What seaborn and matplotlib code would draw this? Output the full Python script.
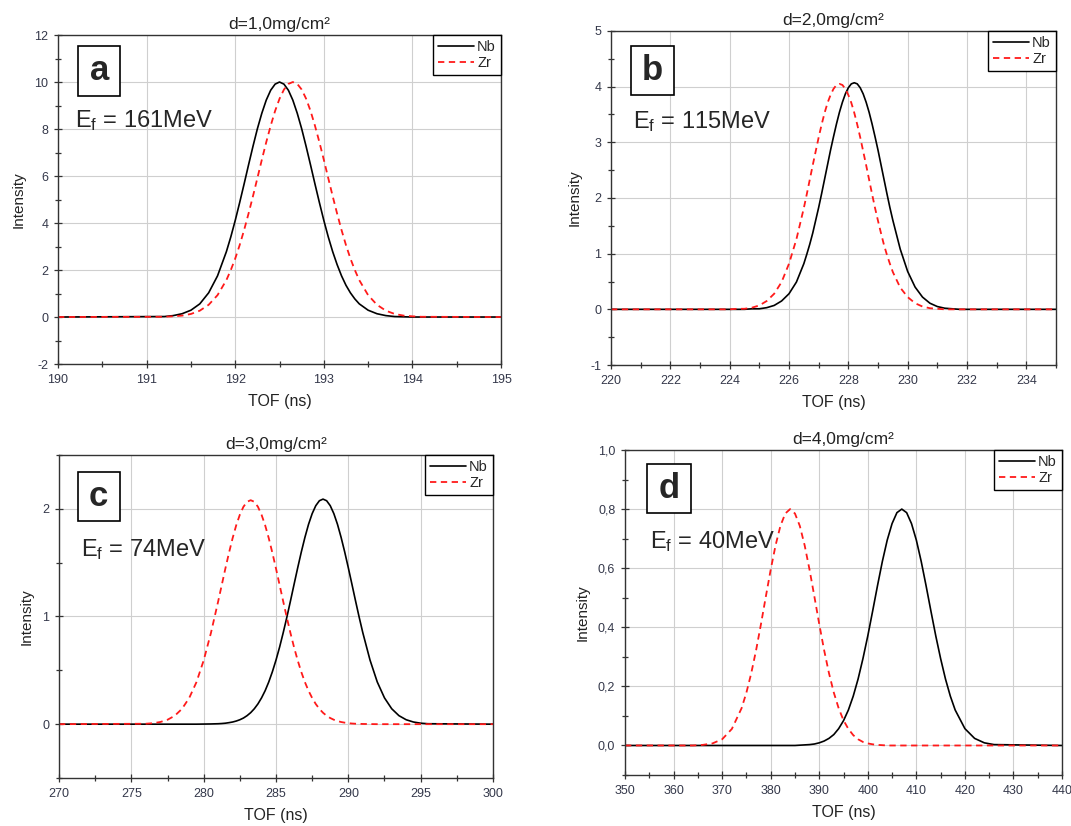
import numpy as np
import matplotlib
matplotlib.use("Agg")
import matplotlib.pyplot as plt
from matplotlib.patches import Rectangle
from matplotlib.ticker import MultipleLocator, FuncFormatter
import seaborn as sns

# ---------------- data ----------------
# panel a : d = 1,0 mg/cm2
a_tof = [190.0, 191.2, 191.3, 191.4, 191.5, 191.6, 191.7, 191.8,
         191.9, 191.95, 192.0, 192.05, 192.1, 192.15, 192.2, 192.25, 192.3,
         192.35, 192.4, 192.45, 192.5, 192.55, 192.6, 192.65, 192.7, 192.75,
         192.8, 192.85, 192.9, 192.95, 193.0, 193.05, 193.1, 193.15, 193.2,
         193.25, 193.3, 193.35, 193.4,
         193.5, 193.6, 193.7, 193.8, 193.9, 194.0, 194.1, 195.0]
a_nb = [0, 0.02, 0.06, 0.14, 0.29, 0.56, 1.03, 1.75,
        2.78, 3.41, 4.11, 4.87, 5.66, 6.47, 7.26, 8.01, 8.67,
        9.23, 9.65, 9.91, 10.0, 9.91, 9.65, 9.23, 8.67, 8.01,
        7.26, 6.47, 5.66, 4.87, 4.11, 3.41, 2.78, 2.23, 1.75,
        1.35, 1.03, 0.77, 0.56,
        0.29, 0.14, 0.06, 0.02, 0.01, 0, 0, 0]
a_zr = [0, 0.01, 0.03, 0.06, 0.13, 0.27, 0.52, 0.93,
        1.57, 2.00, 2.49, 3.06, 3.70, 4.40, 5.14, 5.91, 6.69,
        7.44, 8.14, 8.77, 9.29, 9.68, 9.92, 10.0, 9.92, 9.68,
        9.29, 8.77, 8.14, 7.44, 6.69, 5.91, 5.14, 4.40, 3.70,
        3.06, 2.49, 2.00, 1.57,
        0.93, 0.52, 0.27, 0.13, 0.06, 0.03, 0.01, 0]

# panel b : d = 2,0 mg/cm2
b_tof = [220.0, 224.0, 224.25, 224.5, 224.75, 225.0, 225.25, 225.5, 225.75,
         226.0, 226.25,
         226.5, 226.6, 226.7, 226.8, 226.9, 227.0, 227.1, 227.2, 227.3, 227.4,
         227.5, 227.6, 227.7, 227.8, 227.9, 228.0, 228.1, 228.2, 228.3, 228.4,
         228.5, 228.6, 228.7, 228.8, 228.9, 229.0, 229.1, 229.2, 229.3, 229.4,
         229.5,
         229.75, 230.0, 230.25, 230.5, 230.75, 231.0, 231.25, 231.5, 231.75,
         232.0, 235.0]
b_nb = [0, 0, 0, 0, 0.01, 0.01, 0.03, 0.07, 0.15,
        0.28, 0.49,
        0.82, 0.99, 1.17, 1.37, 1.60, 1.83, 2.08, 2.34, 2.60, 2.86,
        3.10, 3.33, 3.54, 3.72, 3.87, 3.98, 4.05, 4.07, 4.05, 3.98,
        3.87, 3.72, 3.54, 3.33, 3.10, 2.86, 2.60, 2.34, 2.08, 1.83,
        1.60,
        1.08, 0.68, 0.40, 0.22, 0.11, 0.05, 0.02, 0.01, 0,
        0, 0]
b_zr = [0, 0, 0.01, 0.01, 0.03, 0.07, 0.15, 0.28, 0.49,
        0.82, 1.26,
        1.82, 2.07, 2.33, 2.59, 2.84, 3.09, 3.32, 3.53, 3.71, 3.85,
        3.96, 4.03, 4.05, 4.03, 3.96, 3.85, 3.71, 3.53, 3.32, 3.09,
        2.84, 2.59, 2.33, 2.07, 1.82, 1.59, 1.37, 1.16, 0.98, 0.82,
        0.67,
        0.39, 0.22, 0.11, 0.05, 0.02, 0.01, 0, 0, 0,
        0, 0]

# panel c : d = 3,0 mg/cm2
c_tof = [270.0, 276.0, 276.5, 277.0, 277.5, 278.0, 278.5, 279.0, 279.5, 280.0,
         280.5,
         281.0, 281.25, 281.5, 281.75, 282.0, 282.25, 282.5, 282.75, 283.0,
         283.25, 283.5, 283.75, 284.0, 284.25, 284.5, 284.75, 285.0, 285.25,
         285.5, 285.75, 286.0, 286.25, 286.5, 286.75, 287.0, 287.25, 287.5,
         287.75, 288.0, 288.25, 288.5, 288.75, 289.0, 289.25, 289.5, 289.75,
         290.0, 290.25, 290.5, 290.75, 291.0,
         291.5, 292.0, 292.5, 293.0, 293.5, 294.0, 294.5, 295.0, 295.5, 300.0]
c_nb = [0, 0, 0, 0, 0, 0, 0, 0, 0, 0.001,
        0.002,
        0.004, 0.006, 0.009, 0.014, 0.020, 0.029, 0.041, 0.057, 0.079,
        0.107, 0.143, 0.188, 0.244, 0.311, 0.392, 0.487, 0.595, 0.716,
        0.850, 0.993, 1.144, 1.299, 1.452, 1.599, 1.735, 1.856, 1.955,
        2.029, 2.075, 2.09, 2.075, 2.029, 1.955, 1.856, 1.735, 1.599,
        1.452, 1.299, 1.144, 0.993, 0.850,
        0.595, 0.392, 0.244, 0.143, 0.079, 0.041, 0.020, 0.009, 0.004, 0]
c_zr = [0, 0.004, 0.009, 0.020, 0.041, 0.078, 0.142, 0.243, 0.390, 0.592,
        0.846,
        1.139, 1.292, 1.445, 1.591, 1.727, 1.847, 1.945, 2.019, 2.065,
        2.08, 2.065, 2.019, 1.945, 1.847, 1.727, 1.591, 1.445, 1.292,
        1.139, 0.989, 0.846, 0.713, 0.592, 0.484, 0.390, 0.310, 0.243,
        0.187, 0.142, 0.106, 0.078, 0.057, 0.041, 0.029, 0.020, 0.014,
        0.009, 0.006, 0.004, 0.003, 0.002,
        0.001, 0, 0, 0, 0, 0, 0, 0, 0, 0]

# panel d : d = 4,0 mg/cm2
d_tof = [350, 364, 366, 368, 370, 372,
         374, 375, 376, 377, 378, 379, 380, 381, 382, 383, 384, 385, 386, 387,
         388, 389, 390, 391, 392, 393, 394, 395, 396, 397, 398, 399, 400, 401,
         402, 403, 404, 405, 406, 407, 408, 409, 410, 411, 412, 413, 414, 415,
         416, 417, 418,
         420, 422, 424, 426, 440]
d_nb = [0, 0, 0, 0, 0, 0,
        0, 0, 0, 0, 0, 0, 0, 0, 0, 0, 0, 0, 0.001, 0.002,
        0.003, 0.005, 0.009, 0.015, 0.024, 0.037, 0.057, 0.084, 0.120, 0.167,
        0.225, 0.294, 0.371, 0.455, 0.541, 0.623, 0.695, 0.751, 0.788, 0.80,
        0.788, 0.751, 0.695, 0.623, 0.541, 0.455, 0.371, 0.294, 0.225, 0.167,
        0.120,
        0.057, 0.024, 0.009, 0.003, 0]
d_zr = [0, 0, 0.002, 0.007, 0.021, 0.056,
        0.126, 0.179, 0.245, 0.323, 0.411, 0.504, 0.595, 0.677, 0.743, 0.785,
        0.80, 0.785, 0.743, 0.677, 0.595, 0.504, 0.411, 0.323, 0.245, 0.179,
        0.126, 0.085, 0.056, 0.035, 0.021, 0.012, 0.007, 0.004, 0.002, 0.001,
        0, 0, 0, 0, 0, 0, 0, 0, 0, 0, 0, 0, 0, 0, 0,
        0, 0, 0, 0, 0]

titles = ['d=1,0mg/cm²', 'd=2,0mg/cm²', 'd=3,0mg/cm²', 'd=4,0mg/cm²']
letters = ['a', 'b', 'c', 'd']
energies = ['161MeV', '115MeV', '74MeV', '40MeV']

sns.set_style("ticks")
plt.rcParams['font.family'] = ['Liberation Sans', 'DejaVu Sans']
plt.rcParams['mathtext.fontset'] = 'custom'
plt.rcParams['mathtext.rm'] = 'Liberation Sans'
plt.rcParams['mathtext.it'] = 'Liberation Sans:italic'

TICK_COLOR = '#34384a'


def comma_fmt(decimals):
    def f(v, pos):
        return ('%.*f' % (decimals, v)).replace('.', ',')
    return FuncFormatter(f)


def plot_panel(ax, tof, nb, zr, title, xlim, ylim, xmaj, xmin, ymaj, ymin,
               letter, energy, box, etxt, ydec=0):
    """draw one TOF panel"""
    sns.lineplot(x=tof, y=nb, ax=ax, color='black', lw=1.2, label='Nb')
    sns.lineplot(x=tof, y=zr, ax=ax, color='#ff1a1a', lw=1.3,
                 ls=(0, (3.5, 2.5)), label='Zr')
    ax.set_xlim(*xlim)
    ax.set_ylim(*ylim)
    ax.xaxis.set_major_locator(MultipleLocator(xmaj))
    ax.xaxis.set_minor_locator(MultipleLocator(xmin))
    ax.yaxis.set_major_locator(MultipleLocator(ymaj))
    ax.yaxis.set_minor_locator(MultipleLocator(ymin))
    ax.yaxis.set_major_formatter(comma_fmt(ydec))
    ax.xaxis.set_major_formatter(comma_fmt(0))
    ax.grid(True, which='major', color='#cfcfcf', lw=0.8)
    ax.set_axisbelow(True)
    ax.tick_params(which='major', direction='inout', length=6, width=0.9,
                   colors='#333333', labelcolor=TICK_COLOR, labelsize=9, pad=4)
    ax.tick_params(which='minor', direction='inout', length=4, width=0.9,
                   colors='#333333')
    for sp in ax.spines.values():
        sp.set_color('#333333')
        sp.set_linewidth(1.0)
    ax.set_title(title, fontsize=12.5, color='#222222', pad=4)
    ax.set_xlabel('TOF (ns)', fontsize=11.5, color='#222222', labelpad=6)
    ax.set_ylabel('Intensity', fontsize=11, color='#222222', labelpad=6)

    leg = ax.legend(loc='upper right', borderaxespad=0, fancybox=False,
                    framealpha=1, edgecolor='black', fontsize=10.5,
                    handlelength=2.5, handletextpad=0.2, borderpad=0.35,
                    labelspacing=0.15)
    leg.get_frame().set_linewidth(1.0)

    # letter box
    x0, y0, x1, y1 = box
    ax.add_patch(Rectangle((x0, y0), x1 - x0, y1 - y0, transform=ax.transAxes,
                           facecolor='white', edgecolor='black', lw=1.2,
                           zorder=5))
    ax.text((x0 + x1) / 2, (y0 + y1) / 2, letter, transform=ax.transAxes,
            ha='center', va='center', fontsize=25, fontweight='bold',
            zorder=6)
    ax.text(etxt[0], etxt[1], 'E$_\\mathrm{f}$ = ' + energy,
            transform=ax.transAxes, ha='left', va='baseline', fontsize=17,
            zorder=6)


fig = plt.figure(figsize=(10.71, 8.26), dpi=100)
ax_a = fig.add_axes([0.0542, 0.5593, 0.4136, 0.3983])
ax_b = fig.add_axes([0.5705, 0.5581, 0.4155, 0.4044])
ax_c = fig.add_axes([0.0551, 0.0581, 0.4052, 0.3911])
ax_d = fig.add_axes([0.5836, 0.0617, 0.4080, 0.3935])

plot_panel(ax_a, a_tof, a_nb, a_zr, titles[0], (190, 195), (-2, 12), 1, 0.5,
           2, 1, letters[0], energies[0], (0.046, 0.816, 0.140, 0.966),
           (0.039, 0.720))
plot_panel(ax_b, b_tof, b_nb, b_zr, titles[1], (220, 235), (-1, 5), 2, 1,
           1, 0.5, letters[1], energies[1], (0.045, 0.808, 0.141, 0.956),
           (0.049, 0.709))
plot_panel(ax_c, c_tof, c_nb, c_zr, titles[2], (270, 300), (-0.5, 2.5), 5, 2.5,
           1, 0.5, letters[2], energies[2], (0.043, 0.797, 0.140, 0.948),
           (0.050, 0.686))
plot_panel(ax_d, d_tof, d_nb, d_zr, titles[3], (350, 440), (-0.1, 1.0), 10, 5,
           0.2, 0.1, letters[3], energies[3], (0.051, 0.806, 0.150, 0.958),
           (0.058, 0.698), ydec=1)

fig.savefig('out.png', dpi=100)
